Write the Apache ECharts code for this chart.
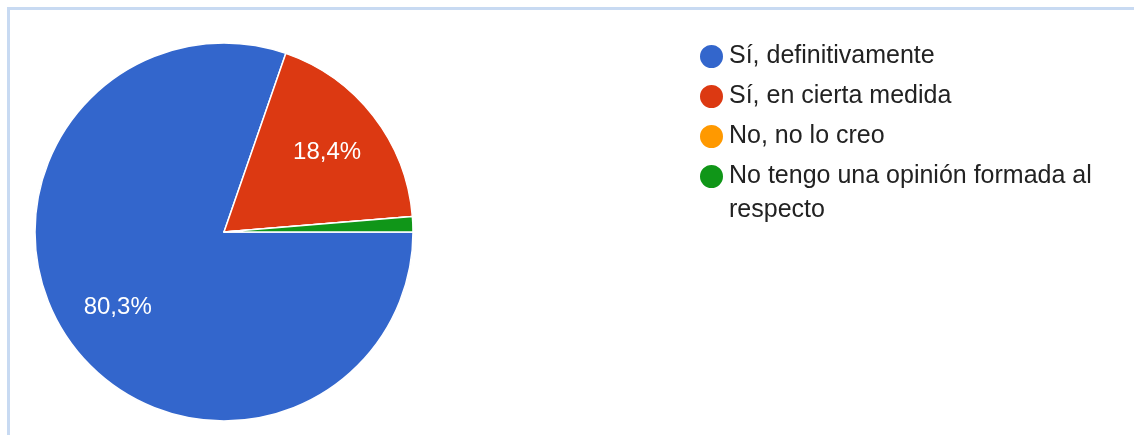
<!DOCTYPE html>
<html>
<head>
<meta charset="utf-8">
<style>
  html, body { margin: 0; padding: 0; background: #fff; }
  #chart { width: 1134px; height: 435px; }
</style>
<script src="https://cdn.jsdelivr.net/npm/echarts@6/dist/echarts.min.js"></script>
</head>
<body>
<div id="chart"></div>
<script>
// Survey answers and their share of responses (percent)
const categories = [
  'Sí, definitivamente',
  'Sí, en cierta medida',
  'No, no lo creo',
  'No tengo una opinión formada al respecto'
];
const shares = [80.3, 18.4, 0, 1.3];
const colors = ['#3366cc', '#dc3912', '#ff9900', '#109618'];

const FONT = '"Liberation Sans", Arial, sans-serif';
const LEGEND_LEFT = 693;
const LEGEND_TOP = 34;
const ROW = 40;

// The long answer wraps onto a second line in the legend; the marker stays on the first line.
const longIdx = 3;
const cut = categories[longIdx].lastIndexOf(' ');
const longFirst = categories[longIdx].slice(0, cut);
const longRest = categories[longIdx].slice(cut + 1);

const pieData = categories.map((name, i) => ({
  name: name,
  value: shares[i],
  itemStyle: { color: colors[i] }
}));

const fmtPct = v => v.toFixed(1).replace('.', ',') + '%';

const chart = echarts.init(document.getElementById('chart'), null, { renderer: 'canvas' });
chart.setOption({
  animation: false,
  color: colors,
  graphic: [
    {
      type: 'polyline',
      silent: true,
      shape: { points: [[8.5, 440], [8.5, 8.5], [1140, 8.5]] },
      style: { stroke: '#c8daf2', lineWidth: 3, fill: null }
    },
    {
      type: 'text',
      silent: true,
      left: LEGEND_LEFT + 36,
      top: LEGEND_TOP + ROW * longIdx + ROW - 1,
      style: {
        text: longRest,
        font: '25px ' + FONT,
        fill: '#222222',
        lineHeight: 35
      }
    }
  ],
  legend: {
    orient: 'vertical',
    left: LEGEND_LEFT,
    top: LEGEND_TOP,
    icon: 'circle',
    itemWidth: 25,
    itemHeight: 25,
    itemGap: 5,
    selectedMode: false,
    formatter: name => (name === categories[longIdx] ? longFirst : name),
    textStyle: {
      fontFamily: FONT,
      fontSize: 25,
      color: '#222222',
      lineHeight: 35
    },
    data: categories
  },
  series: [
    {
      // filled slices
      type: 'pie',
      center: [224, 232],
      radius: [0, 189],
      startAngle: 0,
      clockwise: true,
      avoidLabelOverlap: false,
      silent: true,
      label: { show: false },
      labelLine: { show: false },
      itemStyle: { borderColor: '#ffffff', borderWidth: 1.5 },
      data: pieData
    },
    {
      // transparent ring carrying the percentage labels
      type: 'pie',
      center: [224, 232],
      radius: [66, 189],
      startAngle: 0,
      clockwise: true,
      avoidLabelOverlap: false,
      silent: true,
      legendHoverLink: false,
      itemStyle: { color: 'rgba(0,0,0,0)', borderWidth: 0 },
      label: {
        show: true,
        position: 'inside',
        fontFamily: FONT,
        fontSize: 24,
        color: '#ffffff',
        formatter: p => (p.value >= 5 ? fmtPct(p.value) : '')
      },
      labelLine: { show: false },
      data: categories.map((name, i) => ({ name: name, value: shares[i] }))
    }
  ]
});
</script>
</body>
</html>
